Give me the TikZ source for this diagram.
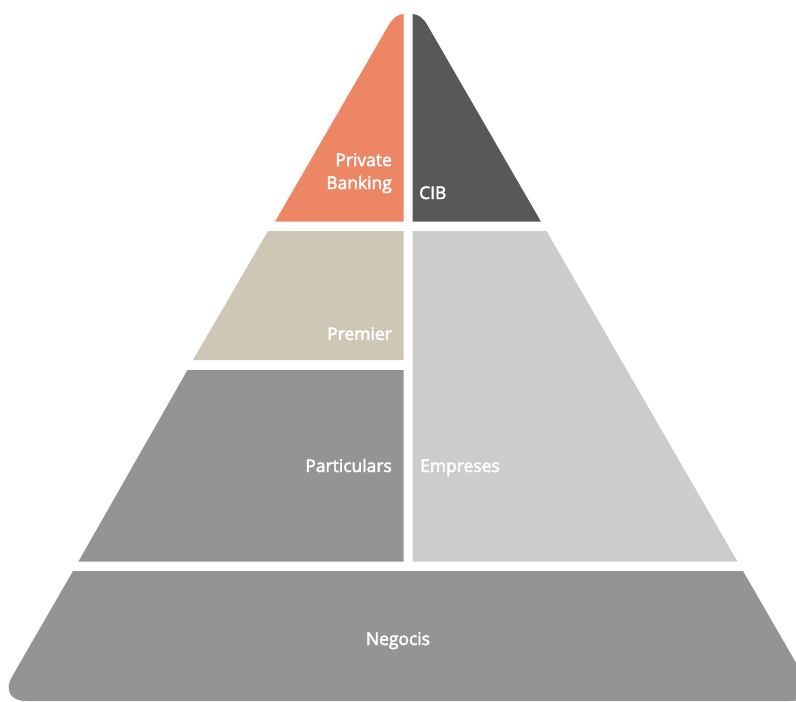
\documentclass[tikz,border=0pt]{standalone}
\usepackage{fontspec}
\setmainfont{Open Sans}
\newfontfamily\lblfont{Open Sans}[FakeBold=2.6]
\definecolor{pbOrange}{HTML}{EC8664}
\definecolor{cibGray}{HTML}{58585A}
\definecolor{premBeige}{HTML}{CFC7B5}
\definecolor{empGray}{HTML}{CCCCCC}
\definecolor{midGray}{HTML}{939495}

\begin{document}
\begin{tikzpicture}[x=1bp, y=-1bp,
  lbl/.style={text=white, inner sep=0pt, font=\lblfont\fontsize{17.5}{23}\selectfont}]

  \clip (0,0) rectangle (796,702);
  \fill[white] (0,0) rectangle (796,702);

  % cim de la piramide
  \fill[pbOrange] (403.5,221.7) -- (275,221.7) -- (388.7,25)
    .. controls (392.7,18.1) and (398,14) .. (403.5,14) -- cycle;
  \fill[cibGray] (412.5,221.7) -- (541,221.7) -- (427.3,25)
    .. controls (423.3,18.1) and (418,14) .. (412.5,14) -- cycle;

  % franja del mig
  \fill[premBeige] (268,231) -- (403.5,231) -- (403.5,360) -- (193,360) -- cycle;
  \fill[empGray] (412.5,231) -- (546.5,231) -- (737.5,561.7) -- (412.5,561.7) -- cycle;
  \fill[midGray] (187.5,370) -- (403.5,370) -- (403.5,561.7) -- (78.3,561.7) -- cycle;

  % base
  \fill[midGray] (73,571) -- (743,571) [rounded corners=28] -- (818,701)
    -- (-2,701) [sharp corners] -- cycle;

  \node[lbl, anchor=base east, align=right] (pb) at (392,189) {Private\\Banking};
  \node[lbl, anchor=base west] (cib) at (419,199) {CIB};
  \node[lbl, anchor=base east] (premier) at (392,340) {Premier};
  \node[lbl, anchor=base east] (partic) at (392,472) {Particulars};
  \node[lbl, anchor=base west] (empr) at (420,472) {Empreses};
  \node[lbl, anchor=base] (negocis) at (398,645) {Negocis};
\end{tikzpicture}
\end{document}
